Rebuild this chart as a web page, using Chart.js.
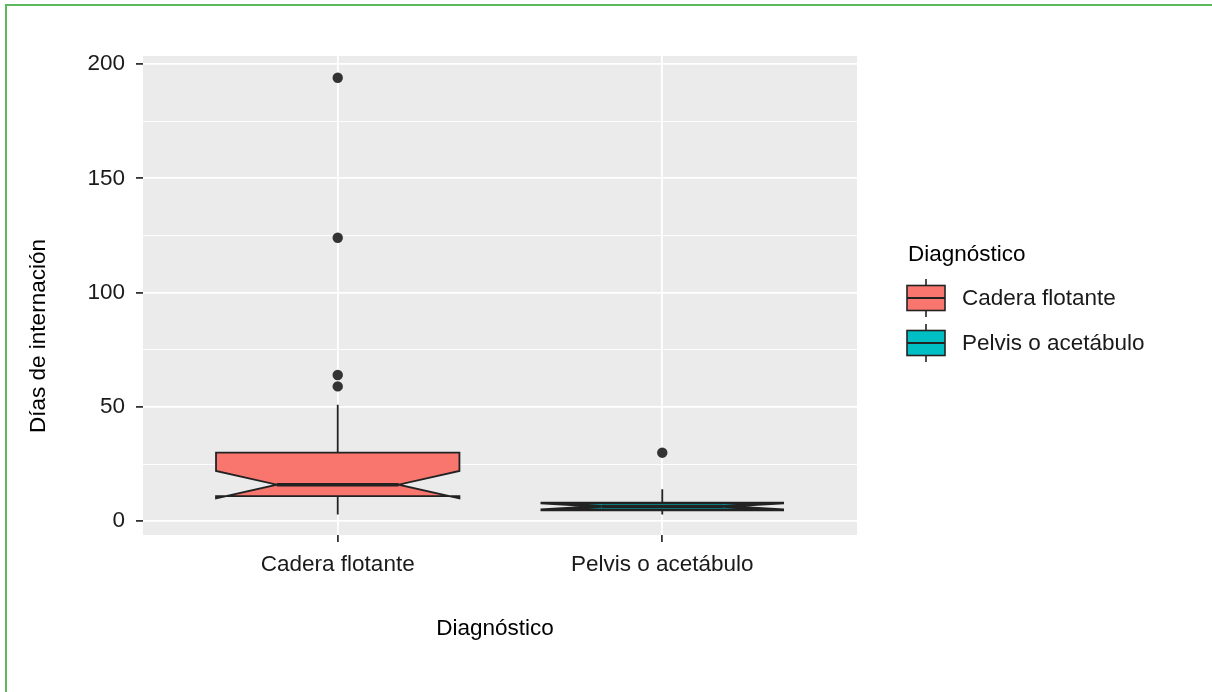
<!DOCTYPE html>
<html>
<head>
<meta charset="utf-8">
<script src="https://cdn.jsdelivr.net/npm/chart.js@4.4.1/dist/chart.umd.min.js"></script>
<style>
  html, body { margin: 0; padding: 0; background: #ffffff; }
  #wrap { position: relative; width: 1212px; height: 692px; overflow: hidden; background: #fff; }
  #topb { position: absolute; left: 5px; top: 4px; width: 1207px; height: 2px; background: #5cb85c; }
  #leftb { position: absolute; left: 5px; top: 4px; width: 2px; height: 688px; background: #5cb85c; }
  canvas { position: absolute; left: 0; top: 0; }
</style>
</head>
<body>
<div id="wrap">
  <canvas id="c" width="1212" height="692"></canvas>
  <div id="topb"></div>
  <div id="leftb"></div>
</div>
<script>
// ---- data ----
const categories = ['Cadera flotante', 'Pelvis o acetábulo'];
const whiskerLow  = [3, 3];
const q1          = [11, 5];
const notchLow    = [10, 5];
const medians     = [16, 6.5];
const notchHigh   = [22, 8];
const q3          = [30, 8];
const whiskerHigh = [51, 14];
const outlierCategory = [1, 1, 1, 1, 2];
const outlierValues   = [194, 124, 64, 59, 30];
const yTicks = [0, 25, 50, 75, 100, 125, 150, 175, 200];
const xTicks = [1, 2];
const fillColors = ['#F8766D', '#00BFC4'];

const FONT = '"Liberation Sans", Arial, Helvetica, sans-serif';
const FS = 22.5;
const TEXT = '#1a1a1a';
const LINE = '#222222';
const BOXW = 0.75;

const boxPlugin = {
  id: 'boxes',
  beforeDraw(chart) {
    const a = chart.chartArea, ctx = chart.ctx;
    ctx.save();
    ctx.fillStyle = '#EBEBEB';
    ctx.fillRect(a.left, a.top, a.right - a.left, a.bottom - a.top);
    ctx.restore();
  },
  beforeDatasetsDraw(chart) {
    const ctx = chart.ctx, xs = chart.scales.x, ys = chart.scales.y;
    ctx.save();
    for (let i = 0; i < categories.length; i++) {
      const xc = xs.getPixelForValue(xTicks[i]);
      const xmin = xs.getPixelForValue(xTicks[i] - BOXW / 2);
      const xmax = xs.getPixelForValue(xTicks[i] + BOXW / 2);
      const ind = (xmax - xmin) * 0.25;
      const Y = v => ys.getPixelForValue(v);
      // whiskers
      ctx.strokeStyle = LINE; ctx.lineWidth = 1.8;
      ctx.beginPath();
      ctx.moveTo(xc, Y(q3[i])); ctx.lineTo(xc, Y(whiskerHigh[i]));
      ctx.moveTo(xc, Y(q1[i])); ctx.lineTo(xc, Y(whiskerLow[i]));
      ctx.stroke();
      // notched box
      const pts = [
        [xmin, q3[i]], [xmin, notchHigh[i]], [xmin + ind, medians[i]], [xmin, notchLow[i]], [xmin, q1[i]],
        [xmax, q1[i]], [xmax, notchLow[i]], [xmax - ind, medians[i]], [xmax, notchHigh[i]], [xmax, q3[i]]
      ];
      ctx.beginPath();
      pts.forEach((p, k) => { if (k === 0) ctx.moveTo(p[0], Y(p[1])); else ctx.lineTo(p[0], Y(p[1])); });
      ctx.closePath();
      ctx.fillStyle = fillColors[i];
      ctx.fill();
      ctx.lineJoin = 'miter';
      ctx.lineWidth = i === 1 ? 2.6 : 1.8;
      ctx.stroke();
      // median
      ctx.lineWidth = 3.4;
      ctx.beginPath();
      ctx.moveTo(xmin + ind, Y(medians[i])); ctx.lineTo(xmax - ind, Y(medians[i]));
      ctx.stroke();
    }
    ctx.restore();
  },
  afterDraw(chart) {
    const ctx = chart.ctx;
    ctx.save();
    ctx.fillStyle = '#000';
    ctx.font = FS + 'px ' + FONT;
    ctx.textAlign = 'center';
    ctx.textBaseline = 'middle';
    // x title
    ctx.fillText('Diagnóstico', 495, 629);
    // y title
    ctx.save();
    ctx.translate(39, 336);
    ctx.rotate(-Math.PI / 2);
    ctx.fillText('Días de internación', 0, 0);
    ctx.restore();
    // legend
    ctx.textAlign = 'left';
    ctx.fillText('Diagnóstico', 908, 255);
    const keyY = [298, 343];
    for (let i = 0; i < categories.length; i++) {
      const cy = keyY[i];
      const x0 = 907, x1 = 945, xc = (x0 + x1) / 2;
      ctx.strokeStyle = LINE; ctx.lineWidth = 1.6;
      ctx.beginPath();
      ctx.moveTo(xc, cy - 19); ctx.lineTo(xc, cy + 19);
      ctx.stroke();
      ctx.fillStyle = fillColors[i];
      ctx.fillRect(x0, cy - 12.5, x1 - x0, 25);
      ctx.strokeRect(x0, cy - 12.5, x1 - x0, 25);
      ctx.lineWidth = 2;
      ctx.beginPath();
      ctx.moveTo(x0, cy); ctx.lineTo(x1, cy);
      ctx.stroke();
      ctx.fillStyle = TEXT;
      ctx.fillText(categories[i], 962, cy + 1);
    }
    ctx.restore();
  }
};

new Chart(document.getElementById('c'), {
  type: 'scatter',
  data: {
    datasets: [{
      label: 'outliers',
      data: outlierValues.map((v, i) => ({ x: outlierCategory[i], y: v })),
      pointRadius: 5.2,
      pointHoverRadius: 5.2,
      backgroundColor: '#333333',
      borderWidth: 0
    }]
  },
  options: {
    responsive: false,
    animation: false,
    devicePixelRatio: 1,
    layout: { padding: { left: 83, right: 355, top: 56, bottom: 97 } },
    plugins: { legend: { display: false }, tooltip: { enabled: false } },
    scales: {
      x: {
        type: 'linear',
        min: 0.4, max: 2.6,
        afterBuildTicks(s) { s.ticks = xTicks.map(v => ({ value: v })); },
        afterFit(s) { s.height = 60; },
        border: { display: false },
        grid: { color: '#ffffff', lineWidth: 1.8, tickColor: '#333333', tickLength: 7 },
        ticks: {
          callback: v => categories[xTicks.indexOf(v)] || '',
          font: { family: FONT, size: FS },
          color: TEXT,
          padding: 9,
          maxRotation: 0,
          autoSkip: false
        }
      },
      y: {
        type: 'linear',
        min: -6, max: 203.5,
        afterBuildTicks(s) { s.ticks = yTicks.map(v => ({ value: v })); },
        afterFit(s) { s.width = 60; },
        border: { display: false },
        grid: {
          color: '#ffffff',
          lineWidth: c => (c.tick && c.tick.value % 50 === 0) ? 1.8 : 0.9,
          tickColor: c => (c.tick && c.tick.value % 50 === 0) ? '#333333' : 'rgba(0,0,0,0)',
          tickLength: 7
        },
        ticks: {
          callback: v => (v % 50 === 0) ? String(v) : '',
          font: { family: FONT, size: FS },
          color: TEXT,
          padding: 11,
          autoSkip: false
        }
      }
    }
  },
  plugins: [boxPlugin]
});
</script>
</body>
</html>
